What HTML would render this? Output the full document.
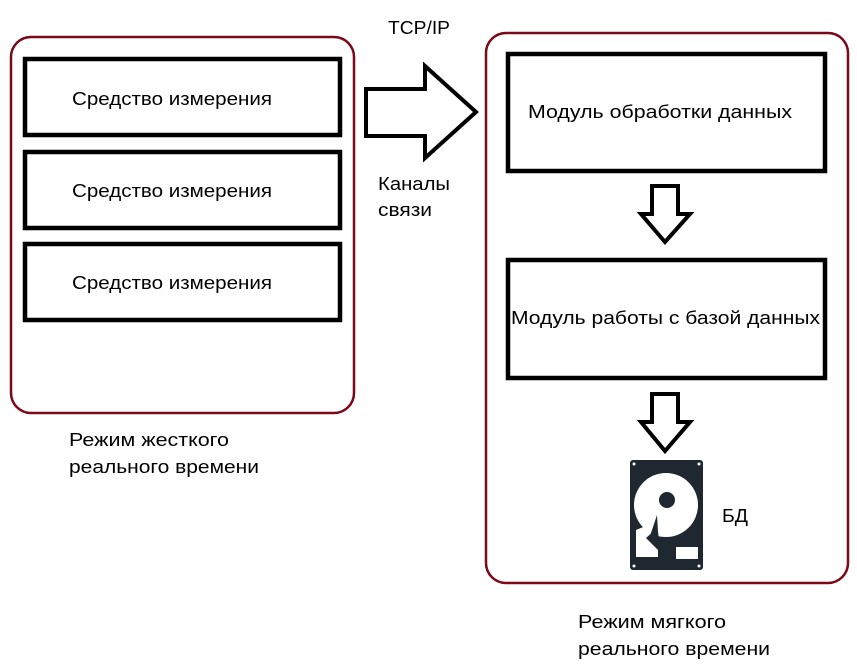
<!DOCTYPE html>
<html><head><meta charset="utf-8"><style>
html,body{margin:0;padding:0;background:#fff;}
svg{display:block;}
text{font-family:"Liberation Sans",sans-serif;font-size:18.5px;fill:#000;}
</style></head><body>
<svg width="857" height="671" viewBox="0 0 857 671" xmlns="http://www.w3.org/2000/svg">
<rect x="11" y="37" width="343" height="376" rx="20" fill="none" stroke="#7a0a1a" stroke-width="2.5"/>
<rect x="486" y="33" width="362" height="550" rx="20" fill="none" stroke="#7a0a1a" stroke-width="2.5"/>
<g fill="none" stroke="#000" stroke-width="4.5">
<rect x="25" y="59" width="315" height="76"/>
<rect x="25" y="152" width="315" height="76"/>
<rect x="25" y="244" width="315" height="76"/>
<rect x="508" y="54" width="317" height="117"/>
<rect x="508" y="260" width="317" height="118"/>
</g>
<g fill="#fff" stroke="#000" stroke-width="4" stroke-linejoin="miter">
<polygon points="366,89 425,89 425,66 476,112 425,158 425,136 366,136"/>
<polygon points="652,186 678,186 678,214 690,214 665,242 641,214 652,214"/>
<polygon points="652,394 678,394 678,422 690,422 665,451 641,422 652,422"/>
</g>
<g lengthAdjust="spacingAndGlyphs">
<text x="72" y="105" textLength="200" lengthAdjust="spacingAndGlyphs">Средство измерения</text>
<text x="72" y="197" textLength="200" lengthAdjust="spacingAndGlyphs">Средство измерения</text>
<text x="72" y="289" textLength="200" lengthAdjust="spacingAndGlyphs">Средство измерения</text>
<text x="528" y="118" textLength="264" lengthAdjust="spacingAndGlyphs">Модуль обработки данных</text>
<text x="511" y="324" textLength="309" lengthAdjust="spacingAndGlyphs">Модуль работы с базой данных</text>
<text x="388" y="34" textLength="62" lengthAdjust="spacingAndGlyphs">TCP/IP</text>
<text x="378" y="190" textLength="72" lengthAdjust="spacingAndGlyphs">Каналы</text>
<text x="378" y="216" textLength="54" lengthAdjust="spacingAndGlyphs">связи</text>
<text x="69" y="446" textLength="160" lengthAdjust="spacingAndGlyphs">Режим жесткого</text>
<text x="69" y="473" textLength="190" lengthAdjust="spacingAndGlyphs">реального времени</text>
<text x="578" y="628" textLength="148" lengthAdjust="spacingAndGlyphs">Режим мягкого</text>
<text x="578" y="655" textLength="192" lengthAdjust="spacingAndGlyphs">реального времени</text>
<text x="722" y="522" textLength="26" lengthAdjust="spacingAndGlyphs">БД</text>
</g>
<g>
<rect x="630" y="460" width="73" height="110" rx="3" fill="#1f2730"/>
<circle cx="666" cy="505" r="32" fill="#fff"/>
<circle cx="667" cy="500" r="8" fill="#1f2730"/>
<polygon points="636,530 636,557 658,557 658,550 646,538 666,520 660,520" fill="#fff"/>
<path d="M657,515 L651,533 Q648,545 655,544 Q660,543 658,532 Z" fill="#1f2730"/>
<rect x="676" y="547" width="22" height="12" fill="#fff"/>
<circle cx="634" cy="464" r="1.5" fill="#fff"/><circle cx="699" cy="464" r="1.5" fill="#fff"/>
<circle cx="634" cy="566" r="1.5" fill="#fff"/><circle cx="699" cy="566" r="1.5" fill="#fff"/>
</g>
</svg>
</body></html>
